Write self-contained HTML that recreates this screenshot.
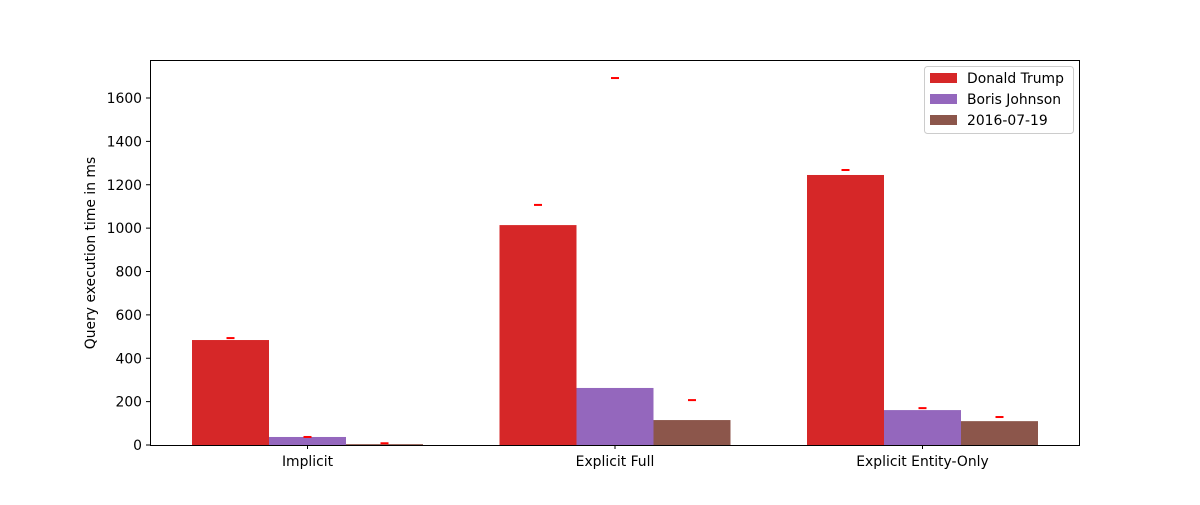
<!DOCTYPE html>
<html><head><meta charset="utf-8"><style>
body{margin:0;background:#fff;font-family:"Liberation Sans","DejaVu Sans",sans-serif}
svg text{font-family:"DejaVu Sans","Liberation Sans",sans-serif;font-size:13.9px;fill:#000}
</style></head><body>
<svg id="chart" width="1200" height="500"></svg>
<script>
const categories=["Implicit","Explicit Full","Explicit Entity-Only"];
const seriesNames=["Donald Trump","Boris Johnson","2016-07-19"];
const trumpValues=[484,1014,1245];
const borisValues=[37,263,161];
const dateValues=[4,115,110];
const trumpErr=[493,1107,1268];
const borisErr=[37,1692,170];
const dateErr=[8,207,129];
const yTicks=[0,200,400,600,800,1000,1200,1400,1600];
const colors=["#d62728","#9467bd","#8c564b"];
const NS="http://www.w3.org/2000/svg";
const svg=document.getElementById("chart");
const L=150,R=1080,T=60,B=445;
const y=v=>B-v*(B-98)/1600;
const x0=307.5;
const cx=i=>x0+i*307.5;
const bw=77;
function el(t,a,p){const e=document.createElementNS(NS,t);for(const k in a)e.setAttribute(k,a[k]);(p||svg).appendChild(e);return e;}
const series=[trumpValues,borisValues,dateValues];
const errs=[trumpErr,borisErr,dateErr];
series.forEach((vals,s)=>{vals.forEach((v,i)=>{
 const bx=cx(i)+(s-1.5)*bw;
 const r=el("rect",{x:bx,y:y(v),width:bw,height:B-y(v),fill:colors[s]});
 
 
});});
errs.forEach((vals,s)=>{vals.forEach((v,i)=>{
 const mx=cx(i)+(s-1)*bw;
 const m=el("rect",{x:mx-4,y:y(v)-1,width:8,height:2,fill:"#ff0000"});
 
 
});});
const frame=el("rect",{x:L+0.5,y:T+0.5,width:R-L-1,height:B-T,fill:"none",stroke:"#000","stroke-width":1});


yTicks.forEach(t=>{
 el("line",{x1:L-4,x2:L,y1:y(t),y2:y(t),stroke:"#000"});
 const tx=el("text",{x:L-8,y:y(t)+5,"text-anchor":"end"});tx.textContent=t;
 
 
});
categories.forEach((c,i)=>{
 el("line",{x1:cx(i),x2:cx(i),y1:B,y2:B+4,stroke:"#000"});
 const tx=el("text",{x:cx(i),y:B+21,"text-anchor":"middle"});tx.textContent=c;
 
 
});
const yt=el("text",{x:0,y:0,transform:"translate(95,253) rotate(-90)","text-anchor":"middle"});
yt.textContent="Query execution time in ms";


const lg=el("g",{});


el("rect",{x:924.5,y:66.5,width:149,height:67,rx:3,fill:"#fff",stroke:"#ccc"},lg);
seriesNames.forEach((n,s)=>{
 const sw=el("rect",{x:930,y:73+s*21,width:27,height:10,fill:colors[s]},lg);
 
 
 const t=el("text",{x:967,y:83+s*21},lg);t.textContent=n;
 
 
});
</script>
</body></html>
